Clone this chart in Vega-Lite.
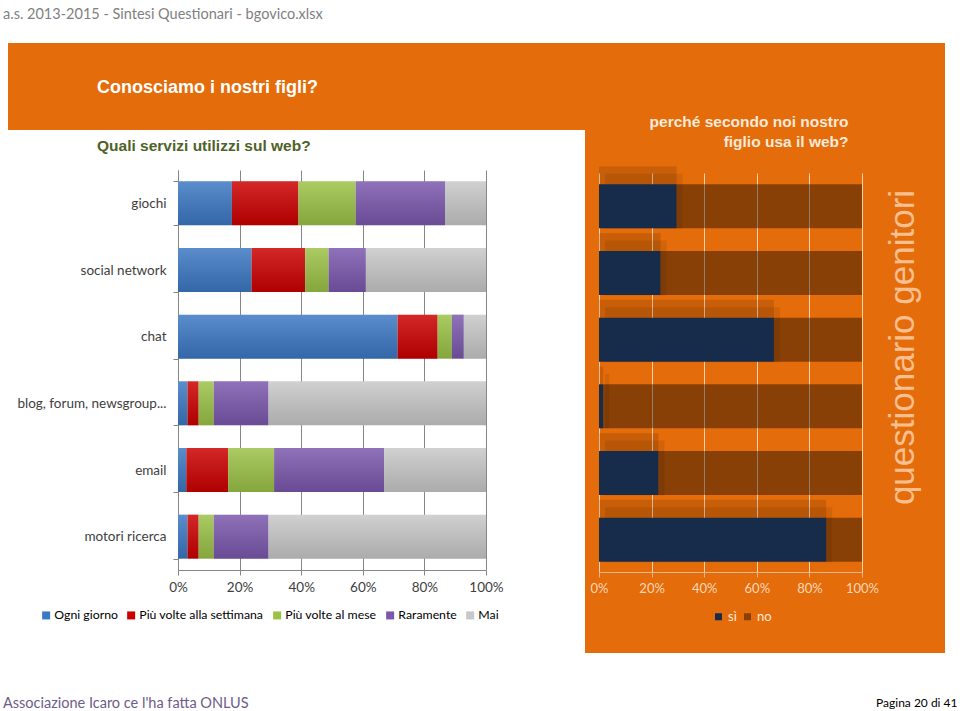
{
  "$schema": "https://vega.github.io/schema/vega-lite/v6.json",
  "background": "white",
  "padding": {"left": 3, "top": 6, "right": 0, "bottom": 0},
  "title": {"text": "a.s. 2013-2015 - Sintesi Questionari - bgovico.xlsx", "anchor": "start", "frame": "bounds", "font": "Lato", "fontSize": 14.5, "fontWeight": "normal", "color": "#7F7F7F", "baseline": "top", "offset": 21},
  "datasets": {
    "uso": [
      {"servizio": "giochi", "frequenza": "Ogni giorno", "k": 1, "pct": 17.5},
      {"servizio": "giochi", "frequenza": "Più volte alla settimana", "k": 2, "pct": 21.6},
      {"servizio": "giochi", "frequenza": "Più volte al mese", "k": 3, "pct": 18.6},
      {"servizio": "giochi", "frequenza": "Raramente", "k": 4, "pct": 29.0},
      {"servizio": "giochi", "frequenza": "Mai", "k": 5, "pct": 13.3},
      {"servizio": "social network", "frequenza": "Ogni giorno", "k": 1, "pct": 23.9},
      {"servizio": "social network", "frequenza": "Più volte alla settimana", "k": 2, "pct": 17.4},
      {"servizio": "social network", "frequenza": "Più volte al mese", "k": 3, "pct": 7.6},
      {"servizio": "social network", "frequenza": "Raramente", "k": 4, "pct": 12.1},
      {"servizio": "social network", "frequenza": "Mai", "k": 5, "pct": 39.0},
      {"servizio": "chat", "frequenza": "Ogni giorno", "k": 1, "pct": 71.3},
      {"servizio": "chat", "frequenza": "Più volte alla settimana", "k": 2, "pct": 13.0},
      {"servizio": "chat", "frequenza": "Più volte al mese", "k": 3, "pct": 4.6},
      {"servizio": "chat", "frequenza": "Raramente", "k": 4, "pct": 3.9},
      {"servizio": "chat", "frequenza": "Mai", "k": 5, "pct": 7.2},
      {"servizio": "blog, forum, newsgroup...", "frequenza": "Ogni giorno", "k": 1, "pct": 3.1},
      {"servizio": "blog, forum, newsgroup...", "frequenza": "Più volte alla settimana", "k": 2, "pct": 3.6},
      {"servizio": "blog, forum, newsgroup...", "frequenza": "Più volte al mese", "k": 3, "pct": 4.9},
      {"servizio": "blog, forum, newsgroup...", "frequenza": "Raramente", "k": 4, "pct": 17.8},
      {"servizio": "blog, forum, newsgroup...", "frequenza": "Mai", "k": 5, "pct": 70.6},
      {"servizio": "email", "frequenza": "Ogni giorno", "k": 1, "pct": 2.7},
      {"servizio": "email", "frequenza": "Più volte alla settimana", "k": 2, "pct": 13.6},
      {"servizio": "email", "frequenza": "Più volte al mese", "k": 3, "pct": 14.9},
      {"servizio": "email", "frequenza": "Raramente", "k": 4, "pct": 35.7},
      {"servizio": "email", "frequenza": "Mai", "k": 5, "pct": 33.1},
      {"servizio": "motori ricerca", "frequenza": "Ogni giorno", "k": 1, "pct": 3.1},
      {"servizio": "motori ricerca", "frequenza": "Più volte alla settimana", "k": 2, "pct": 3.6},
      {"servizio": "motori ricerca", "frequenza": "Più volte al mese", "k": 3, "pct": 4.9},
      {"servizio": "motori ricerca", "frequenza": "Raramente", "k": 4, "pct": 17.8},
      {"servizio": "motori ricerca", "frequenza": "Mai", "k": 5, "pct": 70.6}
    ],
    "motivo": [
      {"servizio": "giochi", "risposta": "sì", "pct": 29.5},
      {"servizio": "giochi", "risposta": "no", "pct": 70.5},
      {"servizio": "social network", "risposta": "sì", "pct": 23.4},
      {"servizio": "social network", "risposta": "no", "pct": 76.6},
      {"servizio": "chat", "risposta": "sì", "pct": 66.5},
      {"servizio": "chat", "risposta": "no", "pct": 33.5},
      {"servizio": "blog, forum, newsgroup...", "risposta": "sì", "pct": 1.6},
      {"servizio": "blog, forum, newsgroup...", "risposta": "no", "pct": 98.4},
      {"servizio": "email", "risposta": "sì", "pct": 22.6},
      {"servizio": "email", "risposta": "no", "pct": 77.4},
      {"servizio": "motori ricerca", "risposta": "sì", "pct": 86.4},
      {"servizio": "motori ricerca", "risposta": "no", "pct": 13.6}
    ]
  },
  "spacing": 0,
  "resolve": {"scale": {"color": "independent"}, "legend": {"color": "independent"}},
  "hconcat": [
    {
      "title": {"text": "Associazione Icaro ce l'ha fatta ONLUS", "orient": "bottom", "anchor": "start", "frame": "bounds", "dx": -5, "offset": 86, "baseline": "alphabetic", "font": "Lato", "fontSize": 14.5, "fontWeight": "normal", "color": "#6E5C8A"},
      "spacing": 8,
      "resolve": {"scale": {"color": "independent"}, "legend": {"color": "independent"}},
      "vconcat": [
        {
          "width": 577,
          "height": 87,
          "view": {"fill": "#E46C0A", "stroke": null},
          "title": {"text": "Conosciamo i nostri figli?", "anchor": "start", "frame": "group", "dx": 89, "offset": -68, "baseline": "alphabetic", "font": "Liberation Sans", "fontSize": 18, "fontWeight": "bold", "color": "#FFFFFF"},
          "data": {"values": []},
          "mark": "point"
        },
        {
          "width": 478,
          "height": 400,
          "view": {"stroke": null},
          "title": {"text": "Quali servizi utilizzi sul web?", "anchor": "start", "frame": "group", "dx": 89, "offset": -3, "baseline": "alphabetic", "font": "Liberation Sans", "fontSize": 15.5, "fontWeight": "bold", "color": "#4F6228"},
          "data": {"name": "uso"},
          "encoding": {
            "y": {
              "field": "servizio", "type": "nominal",
              "sort": ["giochi", "social network", "chat", "blog, forum, newsgroup...", "email", "motori ricerca"],
              "scale": {"paddingInner": 0.34, "paddingOuter": 0.17},
              "axis": {"title": null, "offset": -170, "tickBand": "extent", "ticks": true, "tickSize": 5, "tickColor": "#868686", "domainColor": "#868686", "labelFont": "Lato", "labelFontSize": 13.5, "labelColor": "#404040", "labelPadding": 7, "grid": false}
            },
            "x": {
              "field": "pct", "type": "quantitative", "stack": "zero",
              "scale": {"domain": [0, 100], "range": [170, 478], "nice": false},
              "axis": {"title": null, "values": [0, 20, 40, 60, 80, 100], "labelExpr": "datum.value + '%'", "labelFlush": false, "grid": true, "gridColor": "#868686", "domainColor": "#868686", "tickColor": "#868686", "tickSize": 5, "labelFont": "Lato", "labelFontSize": 13.5, "labelColor": "#404040", "labelPadding": 5}
            },
            "order": {"field": "k", "type": "quantitative"}
          },
          "layer": [
            {
              "mark": {"type": "bar"},
              "encoding": {
                "color": {
                  "field": "frequenza", "type": "nominal",
                  "scale": {"domain": ["Ogni giorno", "Più volte alla settimana", "Più volte al mese", "Raramente", "Mai"], "range": ["#3C78C3", "#CC0000", "#9BC246", "#7A58AD", "#C8C8C8"]},
                  "legend": {"orient": "none", "legendX": 32, "legendY": 439, "direction": "horizontal", "title": null, "symbolType": "square", "symbolSize": 64, "symbolStrokeWidth": 0, "labelFont": "Lato", "labelFontSize": 12.3, "labelColor": "#000000", "columnPadding": 7, "labelOffset": 2}
                }
              }
            },
            {
              "mark": {"type": "bar", "fill": {"gradient": "linear", "x1": 0, "y1": 0, "x2": 0, "y2": 1, "stops": [{"offset": 0, "color": "rgba(255,255,255,0.16)"}, {"offset": 1, "color": "rgba(0,0,0,0.14)"}]}},
              "encoding": {"detail": {"field": "frequenza", "type": "nominal"}}
            }
          ]
        }
      ]
    },
    {
      "width": 360,
      "height": 610,
      "view": {"fill": "#E46C0A", "stroke": null},
      "data": {"name": "motivo"},
      "resolve": {"axis": {"x": "independent"}},
      "encoding": {
        "y": {
          "field": "servizio", "type": "nominal",
          "sort": ["giochi", "social network", "chat", "blog, forum, newsgroup...", "email", "motori ricerca"],
          "scale": {"range": [130, 530], "paddingInner": 0.34, "paddingOuter": 0.17},
          "axis": {"orient": "right", "title": "questionario genitori", "labels": false, "ticks": false, "domain": false, "grid": false, "titleAngle": 270, "titleX": -32, "titleY": 304, "titleAlign": "center", "titleBaseline": "alphabetic", "titleFont": "Liberation Sans", "titleFontSize": 35, "titleFontWeight": "normal", "titleColor": "#FABF8F"}
        }
      },
      "layer": [
        {
          "transform": [{"filter": "datum.risposta == 'sì'"}],
          "mark": {"type": "bar", "fill": "#000000", "opacity": 0.12, "yOffset": -9, "height": {"band": 1.4}},
          "encoding": {
            "x": {
              "field": "pct", "type": "quantitative",
              "scale": {"domain": [0, 100], "range": [14, 277], "nice": false},
              "axis": {"orient": "top", "values": [0, 20, 40, 60, 80, 100], "labels": false, "ticks": false, "domain": false, "grid": true, "gridColor": "#F9D3B0", "title": ["perché secondo noi nostro", "figlio usa il web?"], "titleX": 263, "titleY": 83, "titleAlign": "right", "titleBaseline": "alphabetic", "titleLineHeight": 20, "titleFont": "Liberation Sans", "titleFontSize": 15.5, "titleFontWeight": "bold", "titleColor": "#FDE9D9"}
            }
          }
        },
        {
          "transform": [{"filter": "datum.risposta == 'sì'"}],
          "mark": {"type": "bar", "fill": "#000000", "opacity": 0.08, "xOffset": 6, "yOffset": -5, "height": {"band": 1.25}},
          "encoding": {
            "x": {
              "field": "pct", "type": "quantitative",
              "scale": {"domain": [0, 100], "range": [14, 277], "nice": false},
              "axis": null
            }
          }
        },
        {
          "mark": {"type": "bar"},
          "encoding": {
            "x": {
              "field": "pct", "type": "quantitative",
              "scale": {"domain": [0, 100], "range": [14, 277], "nice": false},
              "axis": {"orient": "bottom", "values": [0, 20, 40, 60, 80, 100], "labelExpr": "datum.value + '%'", "labelFlush": false, "offset": -81, "grid": false, "domainColor": "#E9B58A", "tickColor": "#E9B58A", "tickSize": 5, "labelFont": "Lato", "labelFontSize": 13, "labelColor": "#FCD8BA", "labelPadding": 5, "title": "Pagina 20 di 41", "titleX": 372, "titleY": 134, "titleAlign": "right", "titleBaseline": "alphabetic", "titleFont": "Lato", "titleFontSize": 12, "titleFontWeight": "normal", "titleColor": "#000000"}
            },
            "color": {
              "field": "risposta", "type": "nominal",
              "scale": {"domain": ["sì", "no"], "range": ["#172C4B", "rgba(0,0,0,0.4)"]},
              "legend": {"orient": "none", "legendX": 127, "legendY": 567, "direction": "horizontal", "title": null, "symbolType": "square", "symbolSize": 49, "symbolStrokeWidth": 0, "labelFont": "Lato", "labelFontSize": 13, "labelColor": "#FDE9D9", "columnPadding": 4, "labelOffset": 3}
            },
            "order": {"field": "risposta", "sort": "descending"}
          }
        }
      ]
    }
  ],
  "config": {"view": {"stroke": null}}
}
